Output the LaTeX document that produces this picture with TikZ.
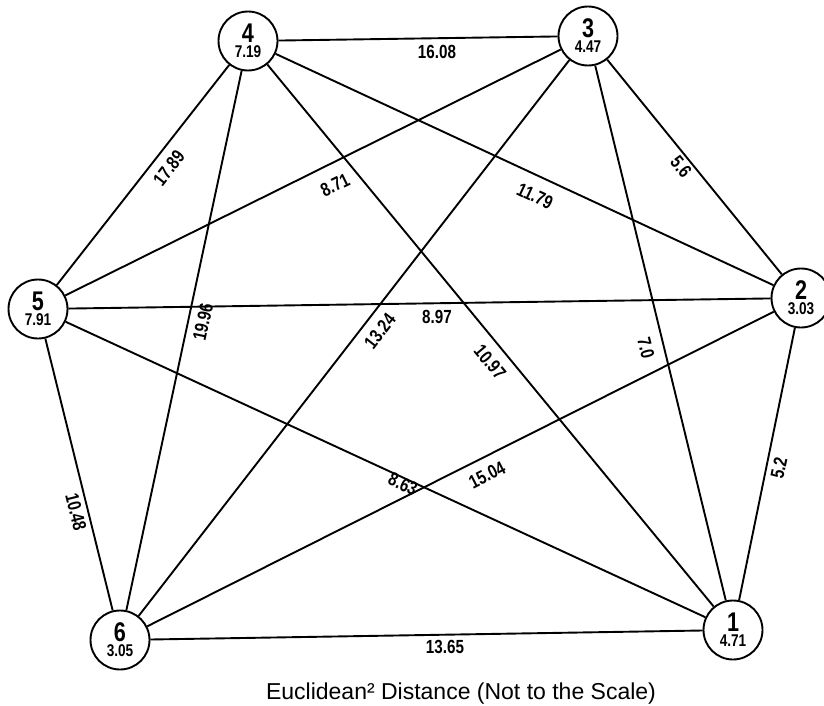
\documentclass[tikz,border=0pt]{standalone}
\usepackage{fontspec}
\setmainfont{Liberation Sans}
\newfontfamily\labfont{Liberation Sans Bold}[FakeStretch=0.8]
\begin{document}
\begin{tikzpicture}[x=1pt,y=-1pt,
  vtx/.style={circle,draw,line width=1.9pt,minimum size=59pt,inner sep=0pt},
  numtxt/.style={inner sep=0pt,font=\labfont\fontsize{27}{27}\selectfont},
  valtxt/.style={inner sep=0pt,font=\labfont\fontsize{17}{17}\selectfont},
  elab/.style={inner sep=0pt,font=\labfont\fontsize{19}{19}\selectfont},
  edge/.style={line width=1.9pt}]
\useasboundingbox (0,0) rectangle (824,706);
% vertices
\node[vtx] (n1) at (733,630) {};
\node[vtx] (n2) at (801,298) {};
\node[vtx] (n3) at (588,36) {};
\node[vtx] (n4) at (248,41) {};
\node[vtx] (n5) at (38,309) {};
\node[vtx] (n6) at (120,640) {};
% vertex texts
\foreach \n/\v in {1/4.71,2/3.03,3/4.47,4/7.19,5/7.91,6/3.05}{
  \node[numtxt] (k\n) at ([yshift=8pt]n\n.center) {\n};
  \node[valtxt] (v\n) at ([yshift=-11pt]n\n.center) {\v};
}
% edges
\foreach \a/\b in {4/3,3/2,2/1,1/6,6/5,5/4,5/3,4/2,5/2,4/6,3/6,4/1,3/1,5/1,2/6}{
  \draw[edge] (n\a) -- (n\b);
}
% edge labels
\node[elab] (l43) at (437,52) {16.08};
\node[elab,rotate=-51] (l32) at (681,167) {5.6};
\node[elab,rotate=78] (l21) at (779,468) {5.2};
\node[elab] (l16) at (445,647) {13.65};
\node[elab,rotate=-76] (l65) at (76,512) {10.48};
\node[elab,rotate=52] (l54) at (169,168) {17.89};
\node[elab,rotate=26] (l53) at (335,185) {8.71};
\node[elab,rotate=-25] (l42) at (535,196) {11.79};
\node[elab] (l52) at (437,317) {8.97};
\node[elab,rotate=78] (l46) at (203,322) {19.96};
\node[elab,rotate=52] (l36) at (380,331) {13.24};
\node[elab,rotate=-50] (l41) at (490,362) {10.97};
\node[elab,rotate=-76] (l31) at (646,348) {7.0};
\node[elab,rotate=-25] (l51) at (403,484) {8.63};
\node[elab,rotate=27] (l26) at (487,475) {15.04};
% caption
\node[inner sep=0pt,font=\fontsize{23}{23}\selectfont] (cap) at (461,694) {Euclidean² Distance (Not to the Scale)};
\end{tikzpicture}
\end{document}
